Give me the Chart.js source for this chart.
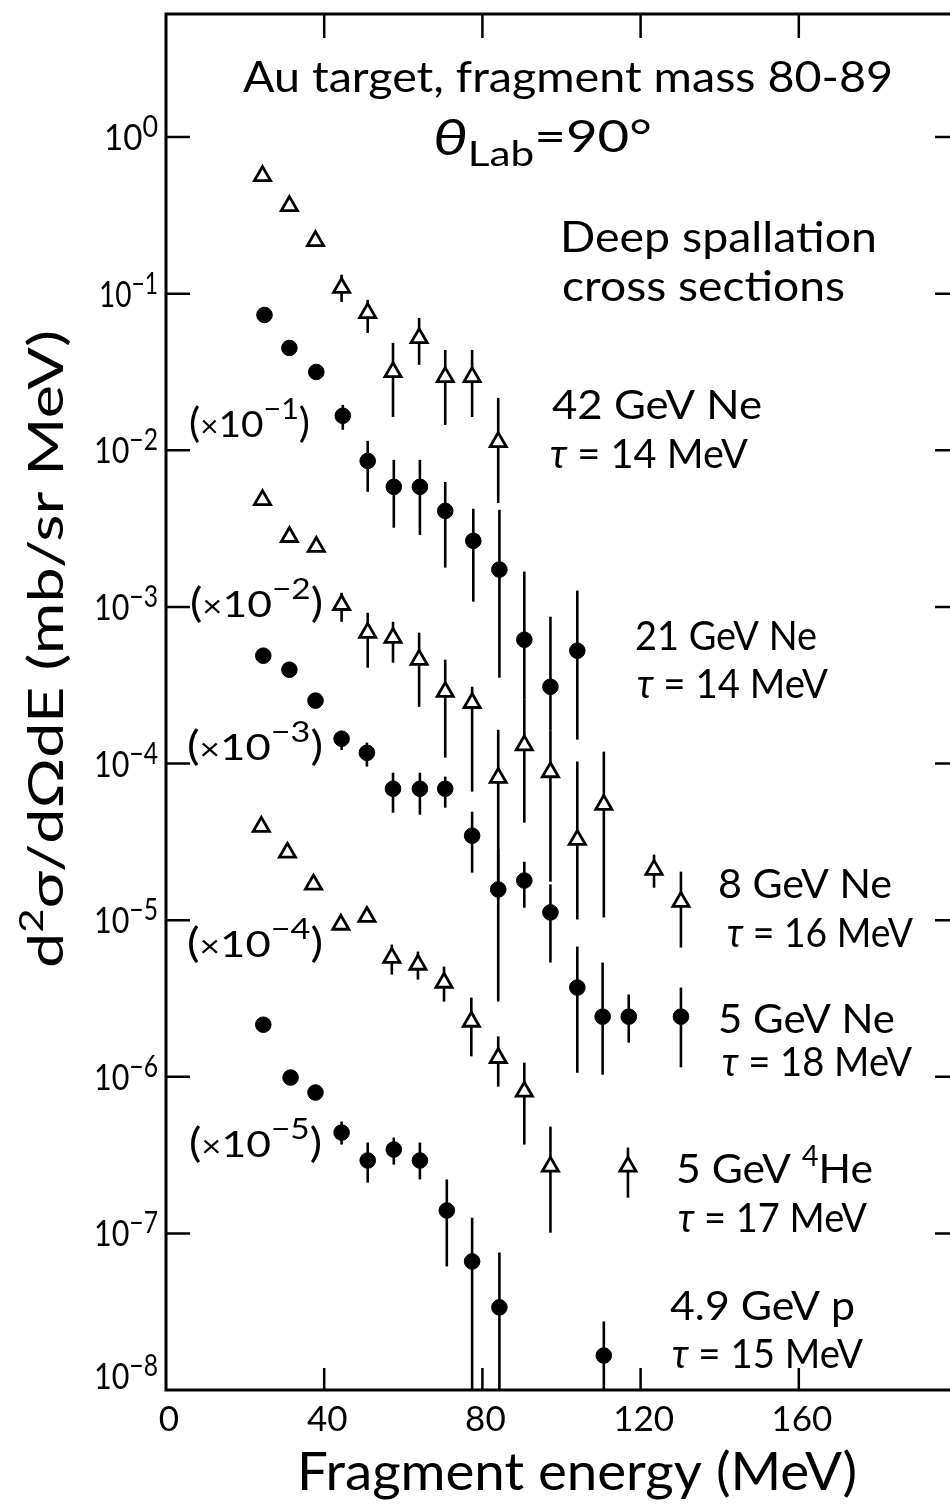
<!DOCTYPE html>
<html>
<head>
<meta charset="utf-8">
<title>Deep spallation cross sections</title>
<script src="https://cdn.jsdelivr.net/npm/chart.js@4.4.1/dist/chart.umd.min.js"></script>
<style>
  html, body { margin: 0; padding: 0; background: #fff; overflow: hidden; }
  #wrap { width: 960px; height: 1506px; }
</style>
</head>
<body>
<div id="wrap"><canvas id="chart" width="960" height="1506"></canvas></div>
<script>
// axis ticks
const xTicks = [0, 40, 80, 120, 160];
const yTicks = [1e0, 1e-1, 1e-2, 1e-3, 1e-4, 1e-5, 1e-6, 1e-7, 1e-8];

// 42 GeV Ne (x1)
const ne42Energy = [24.4, 31.2, 37.8, 44.4, 51.0, 57.4, 64.0, 70.6, 77.4, 84.0];
const ne42Value = [0.564, 0.363, 0.217, 0.109, 0.0753, 0.0316, 0.0521, 0.0294, 0.0294, 0.0113];
const ne42Hi = [null, null, null, 0.132, 0.0912, 0.0485, 0.070, 0.0437, 0.0437, 0.0216];
const ne42Lo = [null, null, null, 0.0885, 0.0561, 0.0163, 0.0351, 0.0145, 0.0163, 0.00461];

// 21 GeV Ne (x10^-1)
const ne21Energy = [24.9, 31.2, 38.0, 44.7, 51.0, 57.6, 64.2, 70.6, 77.7, 84.3, 90.6, 97.2, 104.0];
const ne21Value = [0.0731, 0.0450, 0.0316, 0.0166, 0.00855, 0.00584, 0.00584, 0.00410, 0.00264, 0.00173, 6.17e-4, 3.09e-4, 5.25e-4];
const ne21Hi = [null, null, null, 0.0195, 0.01148, 0.00868, 0.00868, 0.00628, 0.00423, 0.00417, 0.00168, 8.65e-4, 1.27e-3];
const ne21Lo = [null, null, null, 0.0135, 0.00543, 0.0032, 0.00288, 0.00178, 0.00108, 3.53e-4, 2.55e-4, 1.63e-4, 1.42e-4];

// 8 GeV Ne (x10^-2)
const ne8Energy = [24.4, 31.2, 38.0, 44.4, 51.0, 57.4, 64.0, 70.6, 77.4, 84.0, 90.6, 97.2, 104.0, 110.7, 123.4, 130.2];
const ne8Value = [4.82e-3, 2.80e-3, 2.42e-3, 1.03e-3, 6.84e-4, 6.35e-4, 4.60e-4, 2.87e-4, 2.44e-4, 8.11e-5, 1.31e-4, 8.81e-5, 3.26e-5, 5.46e-5, 2.10e-5, 1.31e-5];
const ne8Hi = [null, null, null, 1.23e-3, 9.17e-4, 8.03e-4, 6.84e-4, 4.60e-4, 3.09e-4, 1.64e-4, 2.55e-4, 1.63e-4, 1.03e-4, 1.19e-4, 2.62e-5, 2.04e-5];
const ne8Lo = [null, null, null, 8.03e-4, 4.09e-4, 4.40e-4, 2.30e-4, 1.09e-4, 6.61e-5, 1.35e-5, 4.19e-5, 1.76e-5, 1.01e-5, 1.04e-5, 1.61e-5, 6.68e-6];

// 5 GeV Ne (x10^-3)
const ne5Energy = [24.6, 31.2, 37.8, 44.4, 50.8, 57.4, 64.2, 70.6, 77.4, 84.0, 90.6, 97.2, 104.0, 110.4, 117.0, 130.2];
const ne5Value = [4.88e-4, 3.97e-4, 2.52e-4, 1.44e-4, 1.17e-4, 6.90e-5, 6.90e-5, 6.90e-5, 3.46e-5, 1.57e-5, 1.79e-5, 1.12e-5, 3.71e-6, 2.42e-6, 2.42e-6, 2.42e-6];
const ne5Hi = [null, null, null, 1.60e-4, 1.36e-4, 8.73e-5, 8.73e-5, 8.24e-5, 4.92e-5, 2.82e-5, 2.36e-5, 1.69e-5, 6.78e-6, 5.36e-6, 3.35e-6, 3.71e-6];
const ne5Lo = [null, null, null, 1.22e-4, 9.55e-5, 4.85e-5, 4.71e-5, 5.22e-5, 2.01e-5, 3.02e-6, 1.20e-5, 5.36e-6, 1.06e-6, 1.03e-6, 1.65e-6, 1.15e-6];

// 5 GeV 4He (x10^-4)
const he5Energy = [24.1, 30.7, 37.3, 44.2, 50.8, 57.1, 63.7, 70.3, 77.2, 84.0, 90.6, 97.2, 116.8];
const he5Value = [3.95e-5, 2.70e-5, 1.69e-5, 9.36e-6, 1.05e-5, 5.76e-6, 5.20e-6, 3.99e-6, 2.25e-6, 1.32e-6, 8.05e-7, 2.67e-7, 2.67e-7];
const he5Hi = [null, null, null, null, null, 6.98e-6, 6.30e-6, 5.05e-6, 3.20e-6, 1.81e-6, 1.23e-6, 4.81e-7, 3.53e-7];
const he5Lo = [null, null, null, null, null, 4.49e-6, 4.17e-6, 3.02e-6, 1.35e-6, 8.65e-7, 3.69e-7, 1.01e-7, 1.69e-7];

// 4.9 GeV p (x10^-5)
const p49Energy = [24.6, 31.5, 37.8, 44.4, 51.0, 57.6, 64.2, 71.0, 77.4, 84.3, 110.7];
const p49Value = [2.15e-6, 9.88e-7, 7.93e-7, 4.40e-7, 2.92e-7, 3.43e-7, 2.92e-7, 1.40e-7, 6.62e-8, 3.37e-8, 1.66e-8];
const p49Hi = [null, null, null, 5.18e-7, 3.80e-7, 4.09e-7, 3.80e-7, 2.21e-7, 1.26e-7, 7.55e-8, 2.74e-8];
const p49Lo = [null, null, null, 3.69e-7, 2.11e-7, 2.75e-7, 2.21e-7, 6.15e-8, 1e-9, 1e-9, 1e-9];

// series labels
const seriesBeam = ["42 GeV Ne", "21 GeV Ne", "8 GeV Ne", "5 GeV Ne", "5 GeV 4He", "4.9 GeV p"];
const seriesTau = [14, 14, 16, 18, 17, 15];
const seriesFactor = [0, -1, -2, -3, -4, -5];

const FONT = "Lato, 'Noto Sans', sans-serif";
const fnt = (size, italic) => (italic ? "italic " : "") + size + "px " + FONT;

function textWidth(ctx, parts) {
  return parts.reduce((w, p) => {
    ctx.font = fnt(p[1], p[3]);
    return w + ctx.measureText(p[0]).width;
  }, 0);
}

// parts: [text, size, dy, italic]
function drawText(ctx, parts, x, y, opts = {}) {
  const natural = textWidth(ctx, parts);
  const sx = opts.width ? opts.width / natural : 1;
  let shift = 0;
  if (opts.align === "center") shift = -natural * sx / 2;
  if (opts.align === "right") shift = -natural * sx;
  ctx.save();
  ctx.translate(x, y);
  if (opts.rotate) ctx.rotate(opts.rotate);
  ctx.translate(shift, 0);
  ctx.scale(sx, 1);
  ctx.fillStyle = "#000";
  ctx.textAlign = "left";
  ctx.textBaseline = "alphabetic";
  let cx = 0;
  parts.forEach((p) => {
    ctx.font = fnt(p[1], p[3]);
    ctx.fillText(p[0], cx, p[2] || 0);
    cx += ctx.measureText(p[0]).width;
  });
  ctx.restore();
}

function series(xs, ys, hi, lo, open) {
  return {
    data: xs.map((x, i) => ({ x, y: ys[i] })),
    errHi: hi,
    errLo: lo,
    pointStyle: open ? "triangle" : "circle",
    pointRadius: open ? 9.3 : 7.8,
    borderWidth: open ? 2.8 : 1,
    borderColor: "#000",
    backgroundColor: open ? "#fff" : "#000",
  };
}

// vertical error bars
const errorBars = {
  id: "errorBars",
  beforeDatasetsDraw(chart) {
    const { ctx, chartArea: a, scales: { x, y } } = chart;
    ctx.save();
    ctx.beginPath();
    ctx.rect(a.left, a.top, a.right - a.left, a.bottom - a.top);
    ctx.clip();
    ctx.strokeStyle = "#000";
    ctx.lineWidth = 2.6;
    chart.data.datasets.forEach((d) => {
      d.data.forEach((p, i) => {
        if (d.errHi[i] == null) return;
        const px = x.getPixelForValue(p.x);
        ctx.beginPath();
        ctx.moveTo(px, y.getPixelForValue(d.errHi[i]));
        ctx.lineTo(px, y.getPixelForValue(d.errLo[i]));
        ctx.stroke();
      });
    });
    ctx.restore();
  },
};

// frame, inward ticks and all text
const frame = {
  id: "frame",
  afterDraw(chart) {
    const { ctx, chartArea: a, scales: { x, y } } = chart;
    ctx.save();
    ctx.strokeStyle = "#000";
    ctx.lineWidth = 3;
    ctx.strokeRect(a.left, a.top, a.right - a.left, a.bottom - a.top);
    ctx.lineWidth = 2.5;
    ctx.beginPath();
    xTicks.slice(1).forEach((v) => {
      const px = x.getPixelForValue(v);
      ctx.moveTo(px, a.top); ctx.lineTo(px, a.top + 24);
      ctx.moveTo(px, a.bottom); ctx.lineTo(px, a.bottom - 22);
    });
    yTicks.slice(0, -1).forEach((v) => {
      const py = y.getPixelForValue(v);
      ctx.moveTo(a.left, py); ctx.lineTo(a.left + 24, py);
      ctx.moveTo(a.right, py); ctx.lineTo(a.right - 22, py);
    });
    ctx.stroke();
    ctx.restore();

    // tick labels
    xTicks.forEach((v) => {
      drawText(ctx, [[String(v), 35]], x.getPixelForValue(v) + 3, a.bottom + 41, { align: "center" });
    });
    yTicks.forEach((v) => {
      const e = Math.round(Math.log10(v));
      const exp = e === 0 ? "0" : "\u2212" + -e;
      const py = Math.min(y.getPixelForValue(v), a.bottom - 14);
      const w = e === 0 ? 54 : e === -1 ? 59 : 64;
      drawText(ctx, [["10", 37], [exp, 30, -13]], 158, py + 13, { align: "right", width: w });
    });

    // axis titles
    drawText(ctx, [["Fragment energy (MeV)", 52]], 297, 1490, { width: 560 });
    drawText(ctx, [["d", 48], ["2", 32, -20], ["\u03c3/d\u03a9dE (mb/sr MeV)", 48]], 63, 968,
      { width: 638, rotate: -Math.PI / 2 });

    // header text
    drawText(ctx, [["Au target, fragment mass 80-89", 42]], 243, 92, { width: 650 });
    drawText(ctx, [["\u03b8", 50, 0, true], ["Lab", 34, 11], ["=90\u00b0", 44, -3]], 433, 155, { width: 219 });
    drawText(ctx, [["Deep spallation", 42]], 560, 252, { width: 317 });
    drawText(ctx, [["cross sections", 42]], 562, 301, { width: 283 });

    // series labels
    const beamPos = [[552, 419, 210], [635, 650, 182], [718, 898, 174], [718, 1033, 177], [676, 1183, 197], [670, 1320, 185]];
    const tauPos = [[550, 468, 198], [637, 698, 191], [727, 947, 186], [722, 1076, 190], [678, 1232, 189], [672, 1368, 191]];
    seriesBeam.forEach((b, i) => {
      const parts = b.includes("4He")
        ? [[b.replace("4He", ""), 41], ["4", 28, -17], ["He", 41]]
        : [[b, 41]];
      drawText(ctx, parts, beamPos[i][0], beamPos[i][1], { width: beamPos[i][2] });
      drawText(ctx, [["\u03c4", 41, 0, true], [" = " + seriesTau[i] + " MeV", 41]],
        tauPos[i][0], tauPos[i][1], { width: tauPos[i][2] });
    });

    // scale factors
    const factorPos = [null, [189, 437, 121], [190, 617, 133], [187, 760, 136], [187, 957, 136], [189, 1157, 133]];
    seriesFactor.forEach((f, i) => {
      if (f === 0) return;
      drawText(ctx, [["(", 40], ["\u00d7", 30], ["10", 37], ["\u2212" + -f, 29, -18], [")", 40]],
        factorPos[i][0], factorPos[i][1], { width: factorPos[i][2] });
    });
  },
};

new Chart(document.getElementById("chart"), {
  type: "scatter",
  data: {
    datasets: [
      series(ne42Energy, ne42Value, ne42Hi, ne42Lo, true),
      series(ne21Energy, ne21Value, ne21Hi, ne21Lo, false),
      series(ne8Energy, ne8Value, ne8Hi, ne8Lo, true),
      series(ne5Energy, ne5Value, ne5Hi, ne5Lo, false),
      series(he5Energy, he5Value, he5Hi, he5Lo, true),
      series(p49Energy, p49Value, p49Hi, p49Lo, false),
    ],
  },
  options: {
    responsive: false,
    animation: false,
    devicePixelRatio: 1,
    events: [],
    layout: { autoPadding: false, padding: { left: 166, top: 14, right: 3, bottom: 116 } },
    scales: {
      x: { type: "linear", min: 0, max: 200, display: false },
      y: { type: "logarithmic", min: 1e-8, max: 6.1, display: false },
    },
    plugins: { legend: { display: false }, tooltip: { enabled: false } },
  },
  plugins: [errorBars, frame],
});
</script>
</body>
</html>
